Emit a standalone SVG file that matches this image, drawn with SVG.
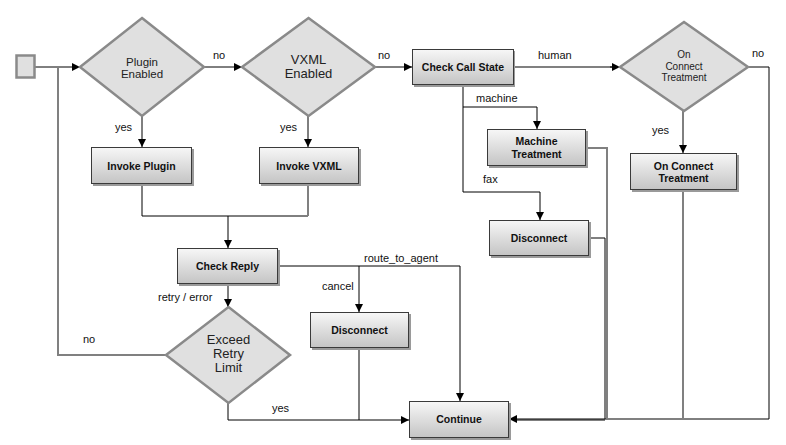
<svg xmlns="http://www.w3.org/2000/svg" width="786" height="445" viewBox="0 0 786 445">
<defs>
<linearGradient id="g" x1="0" y1="0" x2="0" y2="1">
<stop offset="0" stop-color="#f7f7f7"/>
<stop offset="1" stop-color="#c4c4c4"/>
</linearGradient>
<marker id="a" viewBox="0 0 10 10" refX="10" refY="5" markerWidth="8" markerHeight="8" markerUnits="userSpaceOnUse" orient="auto">
<path d="M0,0 L10,5 L0,10 z" fill="#000"/>
</marker>
</defs>
<style>
.box{fill:url(#g);stroke:#3a3a3a;stroke-width:1}
.sh{fill:#9a9a9a}
.dia{fill:#e0e0e0;stroke:#8a8a8a;stroke-width:2.5}
.bt{font-family:"Liberation Sans",Arial,sans-serif;font-weight:bold;font-size:10.5px;fill:#111;text-anchor:middle}
.dt{font-family:"Liberation Sans",Arial,sans-serif;fill:#222;text-anchor:middle}
.lb{font-family:"Liberation Sans",Arial,sans-serif;font-size:11px;fill:#111}
.k{fill:none;stroke:#000;stroke-width:1}
.gr{fill:none;stroke:#808080;stroke-width:2}
</style>
<g id="connectors">
<path class="k" d="M35,67 H80" marker-end="url(#a)"/>
<path class="gr" d="M166,355 H58 V67"/>
<path class="k" d="M204,67 H242" marker-end="url(#a)"/>
<path class="k" d="M375,67 H412" marker-end="url(#a)"/>
<path class="gr" d="M514,67 H612"/>
<path class="k" d="M610,67 H620" marker-end="url(#a)"/>
<path class="k" d="M748,67 H769 V419 H509" marker-end="url(#a)"/>
<path class="k" d="M142,116 V147" marker-end="url(#a)"/>
<path class="k" d="M308,116 V147" marker-end="url(#a)"/>
<path class="k" d="M142,184 V216 H308"/>
<path class="gr" d="M308,184 V216"/>
<path class="k" d="M228,216 V248" marker-end="url(#a)"/>
<path class="k" d="M228,284 V307" marker-end="url(#a)"/>
<path class="k" d="M278,266 H460 V401" marker-end="url(#a)"/>
<path class="k" d="M359,266 V312" marker-end="url(#a)"/>
<path class="k" d="M359,348 V420"/>
<path class="k" d="M228,403 V420 H409" marker-end="url(#a)"/>
<path class="k" d="M463,85 V192 H540 V220" marker-end="url(#a)"/>
<path class="k" d="M463,107 H537 V129" marker-end="url(#a)"/>
<path class="gr" d="M586,148 H607 V419"/>
<path class="k" d="M589,238 H605 V419"/>
<path class="gr" d="M683,190 V419"/>
<path class="gr" d="M683,419 H607"/>
<path class="k" d="M683,111 V153" marker-end="url(#a)"/>
<path class="k" stroke-width="2" d="M605,420 H516"/>
</g>
<g id="labels">
<text class="lb" x="213" y="59">no</text>
<text class="lb" x="378" y="59">no</text>
<text class="lb" x="538" y="59">human</text>
<text class="lb" x="752" y="57">no</text>
<text class="lb" x="115" y="131">yes</text>
<text class="lb" x="280" y="131">yes</text>
<text class="lb" x="476" y="102">machine</text>
<text class="lb" x="652" y="134">yes</text>
<text class="lb" x="483" y="183">fax</text>
<text class="lb" x="158" y="301">retry / error</text>
<text class="lb" x="364" y="262">route_to_agent</text>
<text class="lb" x="322" y="290">cancel</text>
<text class="lb" x="83" y="343">no</text>
<text class="lb" x="272" y="412">yes</text>
</g>
<g id="start">
<rect x="16.5" y="55.5" width="18" height="22" fill="#e0e0e0" stroke="#8a8a8a" stroke-width="2.5"/>
</g>
<g id="plugin-enabled">
<polygon class="dia" points="142,18 204,67 142,116 80,67"/>
<text class="dt" font-size="11.5" x="142" y="66">Plugin</text>
<text class="dt" font-size="11.5" x="142" y="78">Enabled</text>
</g>
<g id="vxml-enabled">
<polygon class="dia" points="308.5,18 375,67 308.5,116 242,67"/>
<text class="dt" font-size="13" x="308.5" y="64">VXML</text>
<text class="dt" font-size="13" x="308.5" y="78">Enabled</text>
</g>
<g id="on-connect-diamond">
<polygon class="dia" points="684,22 748,67 684,111 620,67"/>
<text class="dt" font-size="10" x="684" y="58">On</text>
<text class="dt" font-size="10" x="684" y="69.5">Connect</text>
<text class="dt" font-size="10" x="684" y="81">Treatment</text>
</g>
<g id="exceed-retry">
<polygon class="dia" points="228.5,307 290,355 228.5,403 166,355"/>
<text class="dt" font-size="13" x="228.5" y="344">Exceed</text>
<text class="dt" font-size="13" x="228.5" y="358">Retry</text>
<text class="dt" font-size="13" x="228.5" y="372">Limit</text>
</g>
<g id="invoke-plugin">
<rect class="sh" x="93" y="149" width="101" height="37"/>
<rect class="box" x="91.5" y="147.5" width="100" height="36"/>
<text class="bt" x="141.5" y="169.5">Invoke Plugin</text>
</g>
<g id="invoke-vxml">
<rect class="sh" x="261" y="149" width="100" height="37"/>
<rect class="box" x="259.5" y="147.5" width="99" height="36"/>
<text class="bt" x="309" y="169.5">Invoke VXML</text>
</g>
<g id="check-call-state">
<rect class="sh" x="414" y="51" width="101" height="36"/>
<rect class="box" x="412.5" y="49.5" width="101" height="35"/>
<text class="bt" x="463" y="71">Check Call State</text>
</g>
<g id="machine-treatment">
<rect class="sh" x="489" y="131" width="99" height="37"/>
<rect class="box" x="487.5" y="129.5" width="98" height="36"/>
<text class="bt" x="536.5" y="145">Machine</text>
<text class="bt" x="536.5" y="158">Treatment</text>
</g>
<g id="on-connect-treatment">
<rect class="sh" x="632" y="155" width="107" height="37"/>
<rect class="box" x="630.5" y="153.5" width="106" height="36"/>
<text class="bt" x="683.5" y="169.5">On Connect</text>
<text class="bt" x="683.5" y="182">Treatment</text>
</g>
<g id="disconnect-right">
<rect class="sh" x="491" y="222" width="100" height="36"/>
<rect class="box" x="489.5" y="220.5" width="99" height="35"/>
<text class="bt" x="539" y="241.5">Disconnect</text>
</g>
<g id="check-reply">
<rect class="sh" x="179" y="250" width="101" height="36"/>
<rect class="box" x="177.5" y="248.5" width="100" height="35"/>
<text class="bt" x="227.5" y="269.5">Check Reply</text>
</g>
<g id="disconnect-left">
<rect class="sh" x="312" y="314" width="99" height="36"/>
<rect class="box" x="310.5" y="312.5" width="98" height="35"/>
<text class="bt" x="359.5" y="333.5">Disconnect</text>
</g>
<g id="continue">
<rect class="sh" x="411" y="403" width="100" height="37"/>
<rect class="box" x="409.5" y="401.5" width="99" height="36"/>
<text class="bt" x="459" y="423">Continue</text>
</g>
</svg>
